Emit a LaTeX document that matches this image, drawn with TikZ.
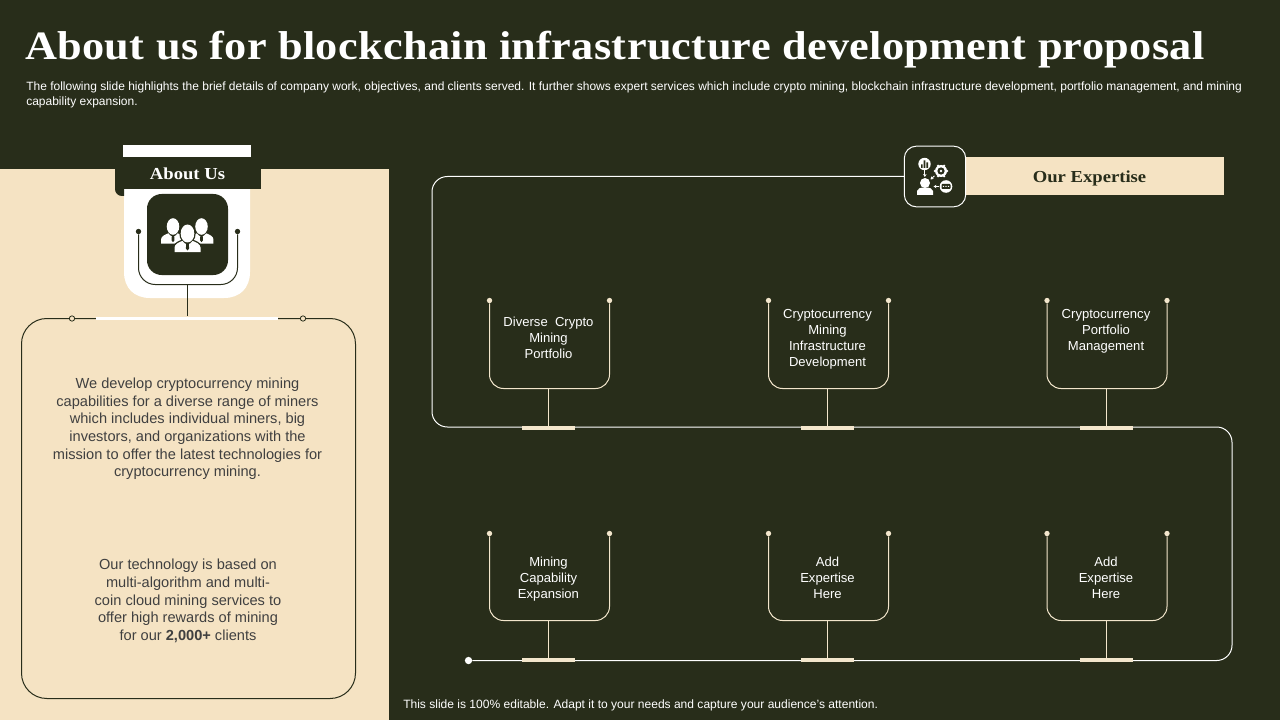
\documentclass[tikz,border=0pt]{standalone}
\usepackage{fontspec}
\usetikzlibrary{arrows.meta}
\setmainfont{Liberation Sans}
\newfontfamily\headfont[FakeStretch=1.1,LetterSpace=0.8]{Liberation Serif}
\newfontfamily\subfont[FakeStretch=1.11]{Liberation Serif}
\definecolor{bgdark}{HTML}{282D1A}
\definecolor{cream}{HTML}{F5E3C3}
\definecolor{bodytxt}{HTML}{404040}
\definecolor{linecream}{HTML}{F3E6CC}
\tikzset{
  x=0.75pt,y=-0.75pt,
  wire/.style={draw=linecream,line width=0.75pt},
  whitewire/.style={draw=white,line width=0.75pt},
  darkwire/.style={draw=bgdark,line width=0.75pt},
  enddot/.style={circle,fill=linecream,inner sep=0pt,minimum size=4pt},
  darkdot/.style={circle,fill=bgdark,inner sep=0pt,minimum size=4pt},
  ringdot/.style={circle,draw=bgdark,fill=cream,line width=0.6pt,inner sep=0pt,minimum size=4pt},
  bar/.style={fill=linecream,draw=none,inner sep=0pt,minimum width=39.75pt,minimum height=3pt},
  cardtext/.style={text=white,font=\fontsize{9.8pt}{12pt}\selectfont,align=center,inner sep=0pt},
  bodytext/.style={text=bodytxt,font=\fontsize{10.95pt}{13.25pt}\selectfont,align=center,inner sep=0pt},
  tinyarrow/.style={draw=white,line width=0.6pt,-{Stealth[length=2.2pt,width=2.6pt]}},
}
\newcommand{\person}[4]{% x, y (head centre), scale, outline width
  \begin{scope}[shift={(#1,#2)},scale=#3]
    \path[draw=bgdark,line width=#4] (0,0) ellipse (6.8 and 9);
    \path[draw=bgdark,line width=#4] (-13,18.5) -- (-13,14) .. controls (-13,10.5) and (-8,8.5) .. (-4,7) -- (4,7) .. controls (8,8.5) and (13,10.5) .. (13,14) -- (13,18.5) -- cycle;
    \fill[white] (-13,18.5) -- (-13,14) .. controls (-13,10.5) and (-8,8.5) .. (-4,7) -- (4,7) .. controls (8,8.5) and (13,10.5) .. (13,14) -- (13,18.5) -- cycle;
    \fill[bgdark] (-6,6) -- (6,6) -- (3,9.5) -- (1.3,10.5) -- (1.6,15) -- (0,17) -- (-1.6,15) -- (-1.3,10.5) -- (-3,9.5) -- cycle;
    \fill[white] (0,0) ellipse (6.8 and 9);
  \end{scope}}
\begin{document}
\begin{tikzpicture}
\useasboundingbox (0,0) rectangle (1280,720);
\fill[bgdark] (0,0) rectangle (1280,720);
% title
\node[anchor=west,inner sep=0pt,text=white,font=\headfont\bfseries\fontsize{30.2pt}{34pt}\selectfont] (title) at (25,50) {About us for blockchain infrastructure development proposal};
\node[anchor=north west,inner sep=0pt,text=white,align=left,font=\fontsize{9pt}{11.25pt}\selectfont] (sub) at (26,81.5) {The following slide highlights the brief details of company work, objectives, and clients served. It further shows expert services which include crypto mining, blockchain infrastructure development, portfolio management, and mining\\capability expansion.};
% left panel
\fill[cream] (0,169) rectangle (389,720);
\fill[white] (123,145) rectangle (251,157);
\fill[white] (124,157) -- (250,157) -- (250,272) .. controls (250,288) and (240,298) .. (224,298) -- (150,298) .. controls (134,298) and (124,288) .. (124,272) -- cycle;
\fill[bgdark] (115,157) rectangle (261,189);
\fill[bgdark] (115,185) -- (124,185) -- (124,196) -- (122,196) .. controls (118,196) and (115,193) .. (115,189) -- cycle;
\node[text=white,inner sep=0pt,font=\subfont\bfseries\fontsize{12.6pt}{14pt}\selectfont] (aboutlbl) at (187.5,173.5) {About Us};
\node[draw=none,fill=bgdark,rounded corners=11pt,minimum width=60.75pt,minimum height=60.75pt,inner sep=0pt] (aboutic) at (187.5,234.5) {};
\person{173}{226.5}{0.92}{0pt}
\person{201.5}{226.5}{0.92}{0pt}
\person{187.5}{233.5}{1.0}{2pt}
% about U
\node[darkdot] (ua) at (138.5,231.5) {};
\node[darkdot] (ub) at (237.5,231.5) {};
\coordinate (ubot) at (187.5,284.5);
\coordinate (barc) at (187.5,316);
\draw[darkwire,rounded corners=12.5pt] (ua) -- (138.5,284.5) -- (237.5,284.5) -- (ub);
\draw[darkwire] (ubot) -- (barc);
% text frame
\coordinate (barl) at (96,318.5);
\coordinate (barr) at (278,318.5);
\draw[darkwire,rounded corners=19pt] (barl) -- (21.5,318.5) -- (21.5,698.5) -- (355.5,698.5) -- (355.5,318.5) -- (barr);
\node[ringdot] (ra) at (72,318.5) {};
\node[ringdot] (rb) at (303,318.5) {};
\fill[white] (96,317) rectangle (278,320);
\node[bodytext] (t1) at (187.5,429) {We develop cryptocurrency mining\\capabilities for a diverse range of miners\\which includes individual miners, big\\investors, and organizations with the\\mission to offer the latest technologies for\\cryptocurrency mining.};
\node[bodytext] (t2) at (188,601) {Our technology is based on\\multi-algorithm and multi-\\coin cloud mining services to\\offer high rewards of mining\\for our \textbf{2,000+} clients};
% expertise header
\fill[cream] (966,157) rectangle (1224,195);
\node[text=bgdark,inner sep=0pt,font=\subfont\bfseries\fontsize{12.6pt}{14pt}\selectfont] (explbl) at (1089.5,178) {Our Expertise};
\node[draw=white,line width=0.75pt,fill=bgdark,rounded corners=9pt,minimum width=46pt,minimum height=45.5pt,inner sep=0pt] (expic) at (935,176.5) {};
% expertise icon
\fill[white] (924.5,164) circle (6.2);
\fill[bgdark] (921,168) rectangle (922.6,164.5) (923.7,168) rectangle (925.3,160.5) (926.4,168) rectangle (928,162.5);
\draw[tinyarrow] (924.8,170.2) -- (924.8,177);
\fill[white] (925,183) circle (5);
\fill[white] (917,195) -- (917,191) .. controls (917.5,188.5) and (920,187.5) .. (925,187.5) .. controls (930,187.5) and (932.5,188.5) .. (933,191) -- (933,195) -- cycle;
\fill[white] (941,171) circle (6);
\foreach \a in {0,60,...,300}{\fill[white] (941,171)++(\a:6) circle (1.3);}
\fill[bgdark] (941,171) circle (3.6);
\fill[white] (941,171) circle (1.3);
\draw[tinyarrow] (934.5,175.8) -- (930.5,179.5);
\fill[white] (946,186.5) circle (6.3);
\fill[bgdark,rounded corners=0.6pt] (941.5,184) rectangle (950.5,189);
\fill[white] (942.8,186) rectangle (944.2,187) (945.3,186) rectangle (946.7,187) (947.8,186) rectangle (949.2,187);
\draw[tinyarrow] (939.2,186.5) -- (933.5,186.5);
% main line
\node[circle,fill=white,inner sep=0pt,minimum size=5.5pt] (startdot) at (468.5,660.5) {};
\draw[whitewire,rounded corners=11.5pt] (expic.west) -- (432,176.5) -- (432,427) -- (1232,427) -- (1232,660.5) -- (startdot);
% cards
\newcommand{\card}[6]{% name, left x, top y, bottom y, line y, text
  \node[enddot] (#1l) at (#2,#3) {};
  \node[enddot] (#1r) at (#2+120,#3) {};
  \coordinate (#1s) at (#2+59,#4);
  \coordinate (#1b) at (#2+59,#5);
  \draw[wire,rounded corners=10.5pt] (#1l) -- (#2,#4) -- (#2+120,#4) -- (#1r);
  \draw[wire] (#1s) -- (#1b);
  \node[bar] at (#1b) {};
  \node[cardtext] (#1t) at (#2+59,#3+#6) }
\card{a}{489.5}{300.5}{388.5}{428}{37.5}{Diverse\ \ Crypto\\Mining\\Portfolio};
\card{b}{768.5}{300.5}{388.5}{428}{38.5}{Cryptocurrency\\Mining\\Infrastructure\\Development};
\card{c}{1047}{300.5}{388.5}{428}{30.5}{Cryptocurrency\\Portfolio\\Management};
\card{d}{489.5}{533.5}{620.5}{660}{46}{Mining\\Capability\\Expansion};
\card{e}{768.5}{533.5}{620.5}{660}{44}{Add\\Expertise\\Here};
\card{f}{1047}{533.5}{620.5}{660}{44}{Add\\Expertise\\Here};
\node[anchor=west,inner sep=0pt,text=white,font=\fontsize{9.03pt}{11pt}\selectfont] (foot) at (403,705) {This slide is 100\% editable. Adapt it to your needs and capture your audience’s attention.};
\end{tikzpicture}
\end{document}
